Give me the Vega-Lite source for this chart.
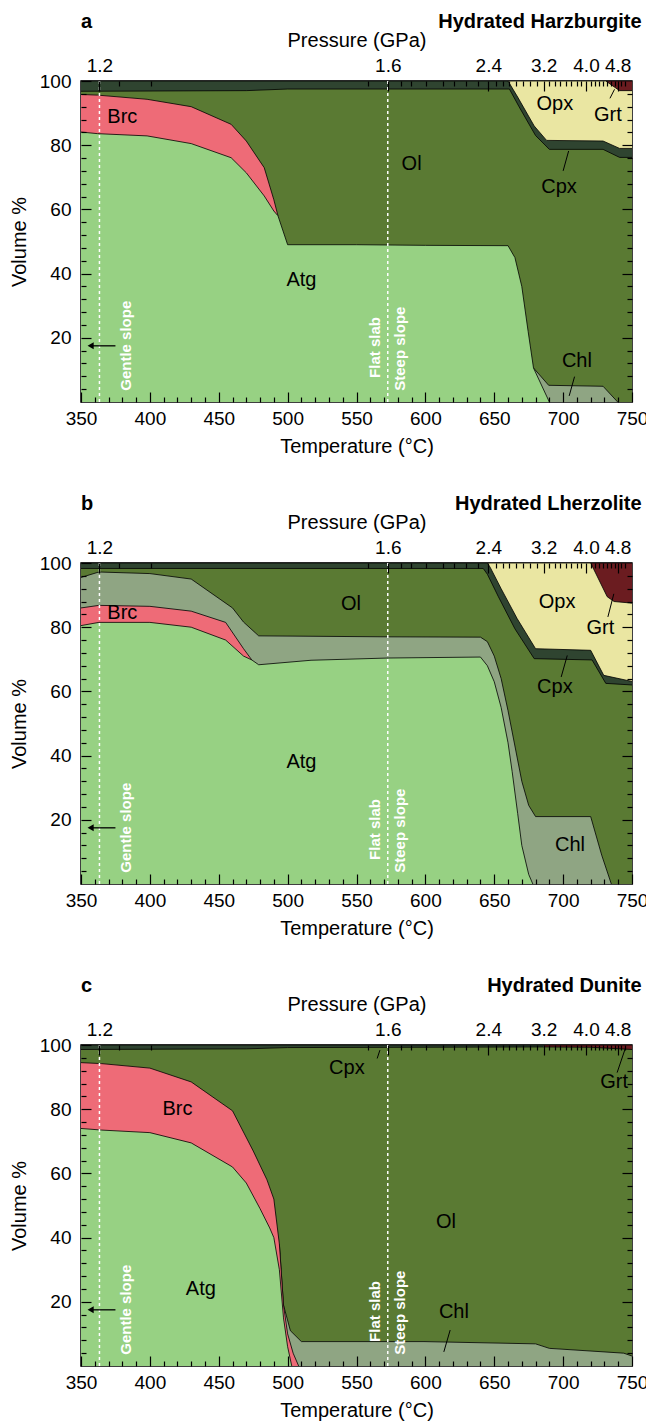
{
"$schema":"https://vega.github.io/schema/vega-lite/v6.json",
"padding":{"left":8,"top":11,"right":5,"bottom":5},
"config":{"font":"Liberation Sans","view":{"stroke":"black","strokeWidth":1.5},"area":{"opacity":1,"fillOpacity":1},
"axis":{"grid":false,"domain":false,"tickColor":"black","tickWidth":1.2,"labelFontSize":19,"labelColor":"black","titleFontSize":20,"titleFontWeight":"normal","titleColor":"black","labelFlush":false,"labelOverlap":false,"labelBound":false}},
"datasets":{
"bd":[
{"p":"a","ph":"Grt","T":731,"v":100},{"p":"a","ph":"Grt","T":750,"v":100},
{"p":"a","ph":"Opx","T":660,"v":100},{"p":"a","ph":"Opx","T":731,"v":100},{"p":"a","ph":"Opx","T":741,"v":97},{"p":"a","ph":"Opx","T":750,"v":97},
{"p":"a","ph":"Cpx","T":350,"v":100},{"p":"a","ph":"Cpx","T":660,"v":100},{"p":"a","ph":"Cpx","T":667,"v":95},{"p":"a","ph":"Cpx","T":679,"v":86},{"p":"a","ph":"Cpx","T":688,"v":81.5},{"p":"a","ph":"Cpx","T":729,"v":81.3},{"p":"a","ph":"Cpx","T":741,"v":79},{"p":"a","ph":"Cpx","T":750,"v":79},
{"p":"a","ph":"Ol","T":350,"v":96.8},{"p":"a","ph":"Ol","T":470,"v":97},{"p":"a","ph":"Ol","T":500,"v":97.5},{"p":"a","ph":"Ol","T":661,"v":97.5},{"p":"a","ph":"Ol","T":668,"v":92},{"p":"a","ph":"Ol","T":680,"v":83},{"p":"a","ph":"Ol","T":690,"v":78.7},{"p":"a","ph":"Ol","T":729,"v":78.7},{"p":"a","ph":"Ol","T":741,"v":76.2},{"p":"a","ph":"Ol","T":750,"v":76.2},
{"p":"a","ph":"Chl","T":678.5,"v":10.6},{"p":"a","ph":"Chl","T":689.5,"v":5.2},{"p":"a","ph":"Chl","T":729,"v":4.9},{"p":"a","ph":"Chl","T":739.6,"v":0},
{"p":"a","ph":"Brc","T":350,"v":95.8},{"p":"a","ph":"Brc","T":362,"v":95.6},{"p":"a","ph":"Brc","T":398,"v":94.3},{"p":"a","ph":"Brc","T":430,"v":92},{"p":"a","ph":"Brc","T":459,"v":86.5},{"p":"a","ph":"Brc","T":470,"v":81.3},{"p":"a","ph":"Brc","T":483,"v":73},{"p":"a","ph":"Brc","T":490,"v":63},{"p":"a","ph":"Brc","T":493,"v":58},
{"p":"a","ph":"Atg","T":350,"v":84.1},{"p":"a","ph":"Atg","T":362,"v":83.6},{"p":"a","ph":"Atg","T":398,"v":82.9},{"p":"a","ph":"Atg","T":430,"v":80.5},{"p":"a","ph":"Atg","T":459,"v":76.1},{"p":"a","ph":"Atg","T":470,"v":71.4},{"p":"a","ph":"Atg","T":483,"v":64.2},{"p":"a","ph":"Atg","T":490,"v":59.5},{"p":"a","ph":"Atg","T":493,"v":58},{"p":"a","ph":"Atg","T":500,"v":49},{"p":"a","ph":"Atg","T":550,"v":49},{"p":"a","ph":"Atg","T":600,"v":48.8},{"p":"a","ph":"Atg","T":660,"v":48.7},{"p":"a","ph":"Atg","T":665,"v":45},{"p":"a","ph":"Atg","T":670,"v":36},{"p":"a","ph":"Atg","T":674.6,"v":22},{"p":"a","ph":"Atg","T":678.5,"v":10.6},{"p":"a","ph":"Atg","T":690,"v":0},
{"p":"b","ph":"Grt","T":720,"v":100},{"p":"b","ph":"Grt","T":750,"v":100},
{"p":"b","ph":"Opx","T":645,"v":100},{"p":"b","ph":"Opx","T":720,"v":100},{"p":"b","ph":"Opx","T":732,"v":89.5},{"p":"b","ph":"Opx","T":737,"v":88},{"p":"b","ph":"Opx","T":750,"v":87.5},
{"p":"b","ph":"Cpx","T":350,"v":100},{"p":"b","ph":"Cpx","T":645,"v":100},{"p":"b","ph":"Cpx","T":647,"v":98.7},{"p":"b","ph":"Cpx","T":655,"v":92},{"p":"b","ph":"Cpx","T":666.6,"v":82.7},{"p":"b","ph":"Cpx","T":680,"v":73.3},{"p":"b","ph":"Cpx","T":720,"v":72.8},{"p":"b","ph":"Cpx","T":729.5,"v":65},{"p":"b","ph":"Cpx","T":750,"v":63.1},
{"p":"b","ph":"Ol","T":350,"v":98.3},{"p":"b","ph":"Ol","T":642,"v":98.3},{"p":"b","ph":"Ol","T":645,"v":96.5},{"p":"b","ph":"Ol","T":653,"v":89.5},{"p":"b","ph":"Ol","T":665,"v":79.5},{"p":"b","ph":"Ol","T":679,"v":70.2},{"p":"b","ph":"Ol","T":721,"v":69.8},{"p":"b","ph":"Ol","T":731,"v":62.5},{"p":"b","ph":"Ol","T":750,"v":62},
{"p":"b","ph":"Chl","T":350,"v":95.5},{"p":"b","ph":"Chl","T":363,"v":97.2},{"p":"b","ph":"Chl","T":400,"v":96.7},{"p":"b","ph":"Chl","T":430,"v":95},{"p":"b","ph":"Chl","T":460,"v":86},{"p":"b","ph":"Chl","T":468,"v":81.6},{"p":"b","ph":"Chl","T":479,"v":77.3},{"p":"b","ph":"Chl","T":573,"v":77},{"p":"b","ph":"Chl","T":640,"v":76.9},{"p":"b","ph":"Chl","T":645,"v":75.5},{"p":"b","ph":"Chl","T":650,"v":71},{"p":"b","ph":"Chl","T":655,"v":64},{"p":"b","ph":"Chl","T":660,"v":54},{"p":"b","ph":"Chl","T":665,"v":43},{"p":"b","ph":"Chl","T":670,"v":32},{"p":"b","ph":"Chl","T":675,"v":24.5},{"p":"b","ph":"Chl","T":680,"v":21},{"p":"b","ph":"Chl","T":720,"v":21},{"p":"b","ph":"Chl","T":728,"v":9},{"p":"b","ph":"Chl","T":735,"v":0},
{"p":"b","ph":"Brc","T":350,"v":86},{"p":"b","ph":"Brc","T":363,"v":86.8},{"p":"b","ph":"Brc","T":400,"v":86.5},{"p":"b","ph":"Brc","T":430,"v":85},{"p":"b","ph":"Brc","T":455,"v":81.5},{"p":"b","ph":"Brc","T":468,"v":73.3},{"p":"b","ph":"Brc","T":474,"v":69.8},
{"p":"b","ph":"Atg","T":350,"v":80.5},{"p":"b","ph":"Atg","T":363,"v":81.5},{"p":"b","ph":"Atg","T":400,"v":81.5},{"p":"b","ph":"Atg","T":430,"v":80},{"p":"b","ph":"Atg","T":455,"v":76},{"p":"b","ph":"Atg","T":468,"v":71},{"p":"b","ph":"Atg","T":474,"v":69.8},{"p":"b","ph":"Atg","T":479,"v":68.3},{"p":"b","ph":"Atg","T":517,"v":69.7},{"p":"b","ph":"Atg","T":573,"v":70.4},{"p":"b","ph":"Atg","T":640,"v":70.7},{"p":"b","ph":"Atg","T":645,"v":68},{"p":"b","ph":"Atg","T":650,"v":63},{"p":"b","ph":"Atg","T":655,"v":55},{"p":"b","ph":"Atg","T":660,"v":44},{"p":"b","ph":"Atg","T":663,"v":35},{"p":"b","ph":"Atg","T":667,"v":22},{"p":"b","ph":"Atg","T":670,"v":12},{"p":"b","ph":"Atg","T":675,"v":3},{"p":"b","ph":"Atg","T":678,"v":0},
{"p":"c","ph":"Grt","T":686,"v":100},{"p":"c","ph":"Grt","T":750,"v":100},
{"p":"c","ph":"Cpx","T":350,"v":100},{"p":"c","ph":"Cpx","T":686,"v":100},
{"p":"c","ph":"Ol","T":350,"v":98.6},{"p":"c","ph":"Ol","T":470,"v":98.8},{"p":"c","ph":"Ol","T":500,"v":99.2},{"p":"c","ph":"Ol","T":686,"v":99.4},{"p":"c","ph":"Ol","T":720,"v":99.3},{"p":"c","ph":"Ol","T":750,"v":98.6},
{"p":"c","ph":"Chl","T":494,"v":38},{"p":"c","ph":"Chl","T":497,"v":19},{"p":"c","ph":"Chl","T":502,"v":11},{"p":"c","ph":"Chl","T":510,"v":7.6},{"p":"c","ph":"Chl","T":599,"v":7.6},{"p":"c","ph":"Chl","T":680,"v":6.9},{"p":"c","ph":"Chl","T":690,"v":5.5},{"p":"c","ph":"Chl","T":744,"v":4},{"p":"c","ph":"Chl","T":750,"v":3.1},
{"p":"c","ph":"Brc","T":350,"v":94.5},{"p":"c","ph":"Brc","T":365,"v":94.2},{"p":"c","ph":"Brc","T":400,"v":92.8},{"p":"c","ph":"Brc","T":430,"v":88.5},{"p":"c","ph":"Brc","T":460,"v":79.5},{"p":"c","ph":"Brc","T":475,"v":67},{"p":"c","ph":"Brc","T":485,"v":58},{"p":"c","ph":"Brc","T":490,"v":52},{"p":"c","ph":"Brc","T":494,"v":38},{"p":"c","ph":"Brc","T":497,"v":19},{"p":"c","ph":"Brc","T":500,"v":10},{"p":"c","ph":"Brc","T":504,"v":4},{"p":"c","ph":"Brc","T":508,"v":0},
{"p":"c","ph":"Atg","T":350,"v":74},{"p":"c","ph":"Atg","T":365,"v":73.5},{"p":"c","ph":"Atg","T":400,"v":72.7},{"p":"c","ph":"Atg","T":430,"v":69.5},{"p":"c","ph":"Atg","T":460,"v":62},{"p":"c","ph":"Atg","T":470,"v":57},{"p":"c","ph":"Atg","T":480,"v":49},{"p":"c","ph":"Atg","T":487,"v":43},{"p":"c","ph":"Atg","T":490,"v":40},{"p":"c","ph":"Atg","T":494,"v":30},{"p":"c","ph":"Atg","T":497,"v":15},{"p":"c","ph":"Atg","T":500,"v":6},{"p":"c","ph":"Atg","T":503,"v":0}
],
"lab":[
{"p":"a","t":"Brc","T":380,"v":88.8},{"p":"a","t":"Ol","T":590,"v":74},{"p":"a","t":"Atg","T":510,"v":38},{"p":"a","t":"Opx","T":694,"v":92.8},{"p":"a","t":"Grt","T":732.5,"v":89.4},{"p":"a","t":"Cpx","T":697,"v":67},{"p":"a","t":"Chl","T":710,"v":12.8},
{"p":"b","t":"Brc","T":380,"v":84.4},{"p":"b","t":"Ol","T":546,"v":87.3},{"p":"b","t":"Atg","T":510,"v":38},{"p":"b","t":"Opx","T":695.6,"v":87.9},{"p":"b","t":"Grt","T":727,"v":79.8},{"p":"b","t":"Cpx","T":694,"v":61.4},{"p":"b","t":"Chl","T":705,"v":12},
{"p":"c","t":"Brc","T":420,"v":80},{"p":"c","t":"Ol","T":615,"v":45},{"p":"c","t":"Atg","T":437,"v":24},{"p":"c","t":"Cpx","T":543,"v":92.8},{"p":"c","t":"Grt","T":737,"v":88.5},{"p":"c","t":"Chl","T":620.7,"v":16.9}
],
"ld":[
{"p":"a","T":734,"v":94.6,"T2":737.3,"v2":97.4},{"p":"a","T":700,"v":72,"T2":704,"v2":78.2},{"p":"a","T":704.4,"v":1.9,"T2":708.3,"v2":7.9},
{"p":"b","T":732.5,"v":83.2,"T2":736.8,"v2":90.4},{"p":"b","T":698.6,"v":64.5,"T2":703,"v2":71.2},
{"p":"c","T":565,"v":95.8,"T2":567,"v2":98.4},{"p":"c","T":739.2,"v":91.4,"T2":745.2,"v2":99},{"p":"c","T":618,"v":11.2,"T2":613.4,"v2":4.4}
],
"ttl":[
{"p":"a","t":"a","T":350,"v":118.4,"al":"l"},{"p":"a","t":"Hydrated Harzburgite","T":757,"v":118.4,"al":"r"},
{"p":"b","t":"b","T":350,"v":118.4,"al":"l"},{"p":"b","t":"Hydrated Lherzolite","T":757,"v":118.4,"al":"r"},
{"p":"c","t":"c","T":350,"v":118.4,"al":"l"},{"p":"c","t":"Hydrated Dunite","T":757,"v":118.4,"al":"r"}
],
"sl":[{"T":363.4},{"T":572.7}],
"st":[{"t":"Gentle slope","T":382.5,"v":3.5},{"t":"Flat slab","T":563.5,"v":7.5},{"t":"Steep slope","T":581.5,"v":3.5}],
"ar":[{"T":375,"T2":357,"v":17.5}]
},
"spacing":161,
"bounds":"flush",
"vconcat":[
{"width":551,"height":321,"resolve":{"axis":{"x":"independent","y":"independent"}},
"layer":[
{"data":{"name":"bd"},"transform":[{"filter":"datum.p==='a'&&datum.ph==='Grt'"}],"mark":{"type":"area","color":"#6B1C20","opacity":1,"line":{"color":"black","strokeWidth":0.8}},
"encoding":{"x":{"field":"T","type":"quantitative","scale":{"domain":[350,750],"nice":false,"zero":false},"axis":{"zindex":2,"orient":"bottom","values":[350,400,450,500,550,600,650,700,750],"tickSize":-10,"labelPadding":17,"title":"Temperature (°C)","titlePadding":8}},
"y":{"field":"v","type":"quantitative","stack":null,"scale":{"domain":[0,100],"nice":false,"zero":false},"axis":{"zindex":2,"orient":"left","values":[20,40,60,80,100],"tickSize":-10,"labelPadding":20,"title":"Volume %","titlePadding":10}}}},
{"data":{"name":"bd"},"transform":[{"filter":"datum.p==='a'&&datum.ph==='Opx'"}],"mark":{"type":"area","color":"#EAE6A2","opacity":1,"line":{"color":"black","strokeWidth":0.8}},
"encoding":{"x":{"field":"T","type":"quantitative","axis":{"zindex":2,"orient":"bottom","values":[360,370,380,390,410,420,430,440,460,470,480,490,510,520,530,540,560,570,580,590,610,620,630,640,660,670,680,690,710,720,730,740],"tickSize":-5,"labels":false,"title":null}},
"y":{"field":"v","type":"quantitative","stack":null,"axis":{"zindex":2,"orient":"left","values":[4,8,12,16,24,28,32,36,44,48,52,56,64,68,72,76,84,88,92,96],"tickSize":-5,"labels":false,"title":null}}}},
{"data":{"name":"bd"},"transform":[{"filter":"datum.p==='a'&&datum.ph==='Cpx'"}],"mark":{"type":"area","color":"#2F4430","opacity":1,"line":{"color":"black","strokeWidth":0.8}},
"encoding":{"x":{"field":"T","type":"quantitative","axis":{"zindex":2,"orient":"top","values":[363.4,572.7,645.7,685.9,716.6,739.6],"tickSize":-10,"labelPadding":16,"labelExpr":"datum.value<400?'1.2':datum.value<600?'1.6':datum.value<660?'2.4':datum.value<700?'3.2':datum.value<730?'4.0':'4.8'","title":"Pressure (GPa)","titlePadding":6}},
"y":{"field":"v","type":"quantitative","stack":null,"axis":{"zindex":2,"orient":"right","values":[20,40,60,80],"tickSize":-10,"labels":false,"title":null}}}},
{"data":{"name":"bd"},"transform":[{"filter":"datum.p==='a'&&datum.ph==='Ol'"}],"mark":{"type":"area","color":"#5A7A33","opacity":1,"line":{"color":"black","strokeWidth":0.8}},
"encoding":{"x":{"field":"T","type":"quantitative","axis":{"zindex":2,"orient":"top","values":[377.4,400.7,558,582,589.6,600.5,612.6,621,629.5,638,651,656,661,666,671,676,681,690,694,698,702,706,710,713,720,723,726,729,732,735,737.5,742,745],"tickSize":-5,"labels":false,"title":null}},
"y":{"field":"v","type":"quantitative","stack":null,"axis":{"zindex":2,"orient":"right","values":[4,8,12,16,24,28,32,36,44,48,52,56,64,68,72,76,84,88,92,96],"tickSize":-5,"labels":false,"title":null}}}},
{"data":{"name":"bd"},"transform":[{"filter":"datum.p==='a'&&datum.ph==='Chl'"}],"mark":{"type":"area","color":"#8FA583","opacity":1,"line":{"color":"black","strokeWidth":0.8}},
"encoding":{"x":{"field":"T","type":"quantitative","axis":null},"y":{"field":"v","type":"quantitative","stack":null,"axis":null}}},
{"data":{"name":"bd"},"transform":[{"filter":"datum.p==='a'&&datum.ph==='Brc'"}],"mark":{"type":"area","color":"#EE6B77","opacity":1,"line":{"color":"black","strokeWidth":0.8}},
"encoding":{"x":{"field":"T","type":"quantitative","axis":null},"y":{"field":"v","type":"quantitative","stack":null,"axis":null}}},
{"data":{"name":"bd"},"transform":[{"filter":"datum.p==='a'&&datum.ph==='Atg'"}],"mark":{"type":"area","color":"#97D183","opacity":1,"line":{"color":"black","strokeWidth":0.8}},
"encoding":{"x":{"field":"T","type":"quantitative","axis":null},"y":{"field":"v","type":"quantitative","stack":null,"axis":null}}},
{"data":{"name":"sl"},"mark":{"type":"rule","color":"white","strokeDash":[3,3],"strokeWidth":1.5},"encoding":{"x":{"field":"T","type":"quantitative","axis":null}}},
{"data":{"name":"st"},"mark":{"type":"text","angle":270,"align":"left","baseline":"middle","fontWeight":"bold","fontSize":15,"color":"white"},"encoding":{"x":{"field":"T","type":"quantitative","axis":null},"y":{"field":"v","type":"quantitative","axis":null},"text":{"field":"t"}}},
{"data":{"name":"ar"},"mark":{"type":"rule","color":"black","strokeWidth":1.3},"encoding":{"x":{"field":"T","type":"quantitative","axis":null},"x2":{"field":"T2"},"y":{"field":"v","type":"quantitative","axis":null}}},
{"data":{"name":"ar"},"mark":{"type":"point","shape":"triangle-left","filled":true,"color":"black","opacity":1,"size":50},"encoding":{"x":{"field":"T2","type":"quantitative","axis":null},"y":{"field":"v","type":"quantitative","axis":null}}},
{"data":{"name":"lab"},"transform":[{"filter":"datum.p==='a'"}],"mark":{"type":"text","fontSize":20,"color":"black","baseline":"middle"},"encoding":{"x":{"field":"T","type":"quantitative","axis":null},"y":{"field":"v","type":"quantitative","axis":null},"text":{"field":"t"}}},
{"data":{"name":"ld"},"transform":[{"filter":"datum.p==='a'"}],"mark":{"type":"rule","color":"black","strokeWidth":1},"encoding":{"x":{"field":"T","type":"quantitative","axis":null},"x2":{"field":"T2"},"y":{"field":"v","type":"quantitative","axis":null},"y2":{"field":"v2"}}},
{"data":{"name":"ttl"},"transform":[{"filter":"datum.p==='a'&&datum.al==='l'"}],"mark":{"type":"text","fontSize":20,"fontWeight":"bold","color":"black","align":"left","baseline":"middle"},"encoding":{"x":{"field":"T","type":"quantitative","axis":null},"y":{"field":"v","type":"quantitative","axis":null},"text":{"field":"t"}}},
{"data":{"name":"ttl"},"transform":[{"filter":"datum.p==='a'&&datum.al==='r'"}],"mark":{"type":"text","fontSize":20,"fontWeight":"bold","color":"black","align":"right","baseline":"middle"},"encoding":{"x":{"field":"T","type":"quantitative","axis":null},"y":{"field":"v","type":"quantitative","axis":null},"text":{"field":"t"}}}
]},
{"width":551,"height":321,"resolve":{"axis":{"x":"independent","y":"independent"}},
"layer":[
{"data":{"name":"bd"},"transform":[{"filter":"datum.p==='b'&&datum.ph==='Grt'"}],"mark":{"type":"area","color":"#6B1C20","opacity":1,"line":{"color":"black","strokeWidth":0.8}},
"encoding":{"x":{"field":"T","type":"quantitative","scale":{"domain":[350,750],"nice":false,"zero":false},"axis":{"zindex":2,"orient":"bottom","values":[350,400,450,500,550,600,650,700,750],"tickSize":-10,"labelPadding":17,"title":"Temperature (°C)","titlePadding":8}},
"y":{"field":"v","type":"quantitative","stack":null,"scale":{"domain":[0,100],"nice":false,"zero":false},"axis":{"zindex":2,"orient":"left","values":[20,40,60,80,100],"tickSize":-10,"labelPadding":20,"title":"Volume %","titlePadding":10}}}},
{"data":{"name":"bd"},"transform":[{"filter":"datum.p==='b'&&datum.ph==='Opx'"}],"mark":{"type":"area","color":"#EAE6A2","opacity":1,"line":{"color":"black","strokeWidth":0.8}},
"encoding":{"x":{"field":"T","type":"quantitative","axis":{"zindex":2,"orient":"bottom","values":[360,370,380,390,410,420,430,440,460,470,480,490,510,520,530,540,560,570,580,590,610,620,630,640,660,670,680,690,710,720,730,740],"tickSize":-5,"labels":false,"title":null}},
"y":{"field":"v","type":"quantitative","stack":null,"axis":{"zindex":2,"orient":"left","values":[4,8,12,16,24,28,32,36,44,48,52,56,64,68,72,76,84,88,92,96],"tickSize":-5,"labels":false,"title":null}}}},
{"data":{"name":"bd"},"transform":[{"filter":"datum.p==='b'&&datum.ph==='Cpx'"}],"mark":{"type":"area","color":"#2F4430","opacity":1,"line":{"color":"black","strokeWidth":0.8}},
"encoding":{"x":{"field":"T","type":"quantitative","axis":{"zindex":2,"orient":"top","values":[363.4,572.7,645.7,685.9,716.6,739.6],"tickSize":-10,"labelPadding":16,"labelExpr":"datum.value<400?'1.2':datum.value<600?'1.6':datum.value<660?'2.4':datum.value<700?'3.2':datum.value<730?'4.0':'4.8'","title":"Pressure (GPa)","titlePadding":6}},
"y":{"field":"v","type":"quantitative","stack":null,"axis":{"zindex":2,"orient":"right","values":[20,40,60,80],"tickSize":-10,"labels":false,"title":null}}}},
{"data":{"name":"bd"},"transform":[{"filter":"datum.p==='b'&&datum.ph==='Ol'"}],"mark":{"type":"area","color":"#5A7A33","opacity":1,"line":{"color":"black","strokeWidth":0.8}},
"encoding":{"x":{"field":"T","type":"quantitative","axis":{"zindex":2,"orient":"top","values":[377.4,400.7,558,582,589.6,600.5,612.6,621,629.5,638,651,656,661,666,671,676,681,690,694,698,702,706,710,713,720,723,726,729,732,735,737.5,742,745],"tickSize":-5,"labels":false,"title":null}},
"y":{"field":"v","type":"quantitative","stack":null,"axis":{"zindex":2,"orient":"right","values":[4,8,12,16,24,28,32,36,44,48,52,56,64,68,72,76,84,88,92,96],"tickSize":-5,"labels":false,"title":null}}}},
{"data":{"name":"bd"},"transform":[{"filter":"datum.p==='b'&&datum.ph==='Chl'"}],"mark":{"type":"area","color":"#8FA583","opacity":1,"line":{"color":"black","strokeWidth":0.8}},
"encoding":{"x":{"field":"T","type":"quantitative","axis":null},"y":{"field":"v","type":"quantitative","stack":null,"axis":null}}},
{"data":{"name":"bd"},"transform":[{"filter":"datum.p==='b'&&datum.ph==='Brc'"}],"mark":{"type":"area","color":"#EE6B77","opacity":1,"line":{"color":"black","strokeWidth":0.8}},
"encoding":{"x":{"field":"T","type":"quantitative","axis":null},"y":{"field":"v","type":"quantitative","stack":null,"axis":null}}},
{"data":{"name":"bd"},"transform":[{"filter":"datum.p==='b'&&datum.ph==='Atg'"}],"mark":{"type":"area","color":"#97D183","opacity":1,"line":{"color":"black","strokeWidth":0.8}},
"encoding":{"x":{"field":"T","type":"quantitative","axis":null},"y":{"field":"v","type":"quantitative","stack":null,"axis":null}}},
{"data":{"name":"sl"},"mark":{"type":"rule","color":"white","strokeDash":[3,3],"strokeWidth":1.5},"encoding":{"x":{"field":"T","type":"quantitative","axis":null}}},
{"data":{"name":"st"},"mark":{"type":"text","angle":270,"align":"left","baseline":"middle","fontWeight":"bold","fontSize":15,"color":"white"},"encoding":{"x":{"field":"T","type":"quantitative","axis":null},"y":{"field":"v","type":"quantitative","axis":null},"text":{"field":"t"}}},
{"data":{"name":"ar"},"mark":{"type":"rule","color":"black","strokeWidth":1.3},"encoding":{"x":{"field":"T","type":"quantitative","axis":null},"x2":{"field":"T2"},"y":{"field":"v","type":"quantitative","axis":null}}},
{"data":{"name":"ar"},"mark":{"type":"point","shape":"triangle-left","filled":true,"color":"black","opacity":1,"size":50},"encoding":{"x":{"field":"T2","type":"quantitative","axis":null},"y":{"field":"v","type":"quantitative","axis":null}}},
{"data":{"name":"lab"},"transform":[{"filter":"datum.p==='b'"}],"mark":{"type":"text","fontSize":20,"color":"black","baseline":"middle"},"encoding":{"x":{"field":"T","type":"quantitative","axis":null},"y":{"field":"v","type":"quantitative","axis":null},"text":{"field":"t"}}},
{"data":{"name":"ld"},"transform":[{"filter":"datum.p==='b'"}],"mark":{"type":"rule","color":"black","strokeWidth":1},"encoding":{"x":{"field":"T","type":"quantitative","axis":null},"x2":{"field":"T2"},"y":{"field":"v","type":"quantitative","axis":null},"y2":{"field":"v2"}}},
{"data":{"name":"ttl"},"transform":[{"filter":"datum.p==='b'&&datum.al==='l'"}],"mark":{"type":"text","fontSize":20,"fontWeight":"bold","color":"black","align":"left","baseline":"middle"},"encoding":{"x":{"field":"T","type":"quantitative","axis":null},"y":{"field":"v","type":"quantitative","axis":null},"text":{"field":"t"}}},
{"data":{"name":"ttl"},"transform":[{"filter":"datum.p==='b'&&datum.al==='r'"}],"mark":{"type":"text","fontSize":20,"fontWeight":"bold","color":"black","align":"right","baseline":"middle"},"encoding":{"x":{"field":"T","type":"quantitative","axis":null},"y":{"field":"v","type":"quantitative","axis":null},"text":{"field":"t"}}}
]},
{"width":551,"height":321,"resolve":{"axis":{"x":"independent","y":"independent"}},
"layer":[
{"data":{"name":"bd"},"transform":[{"filter":"datum.p==='c'&&datum.ph==='Grt'"}],"mark":{"type":"area","color":"#6B1C20","opacity":1,"line":{"color":"black","strokeWidth":0.8}},
"encoding":{"x":{"field":"T","type":"quantitative","scale":{"domain":[350,750],"nice":false,"zero":false},"axis":{"zindex":2,"orient":"bottom","values":[350,400,450,500,550,600,650,700,750],"tickSize":-10,"labelPadding":17,"title":"Temperature (°C)","titlePadding":8}},
"y":{"field":"v","type":"quantitative","stack":null,"scale":{"domain":[0,100],"nice":false,"zero":false},"axis":{"zindex":2,"orient":"left","values":[20,40,60,80,100],"tickSize":-10,"labelPadding":20,"title":"Volume %","titlePadding":10}}}},
{"data":{"name":"bd"},"transform":[{"filter":"datum.p==='c'&&datum.ph==='Opx'"}],"mark":{"type":"area","color":"#EAE6A2","opacity":1,"line":{"color":"black","strokeWidth":0.8}},
"encoding":{"x":{"field":"T","type":"quantitative","axis":{"zindex":2,"orient":"bottom","values":[360,370,380,390,410,420,430,440,460,470,480,490,510,520,530,540,560,570,580,590,610,620,630,640,660,670,680,690,710,720,730,740],"tickSize":-5,"labels":false,"title":null}},
"y":{"field":"v","type":"quantitative","stack":null,"axis":{"zindex":2,"orient":"left","values":[4,8,12,16,24,28,32,36,44,48,52,56,64,68,72,76,84,88,92,96],"tickSize":-5,"labels":false,"title":null}}}},
{"data":{"name":"bd"},"transform":[{"filter":"datum.p==='c'&&datum.ph==='Cpx'"}],"mark":{"type":"area","color":"#2F4430","opacity":1,"line":{"color":"black","strokeWidth":0.8}},
"encoding":{"x":{"field":"T","type":"quantitative","axis":{"zindex":2,"orient":"top","values":[363.4,572.7,645.7,685.9,716.6,739.6],"tickSize":-10,"labelPadding":16,"labelExpr":"datum.value<400?'1.2':datum.value<600?'1.6':datum.value<660?'2.4':datum.value<700?'3.2':datum.value<730?'4.0':'4.8'","title":"Pressure (GPa)","titlePadding":6}},
"y":{"field":"v","type":"quantitative","stack":null,"axis":{"zindex":2,"orient":"right","values":[20,40,60,80],"tickSize":-10,"labels":false,"title":null}}}},
{"data":{"name":"bd"},"transform":[{"filter":"datum.p==='c'&&datum.ph==='Ol'"}],"mark":{"type":"area","color":"#5A7A33","opacity":1,"line":{"color":"black","strokeWidth":0.8}},
"encoding":{"x":{"field":"T","type":"quantitative","axis":{"zindex":2,"orient":"top","values":[377.4,400.7,558,582,589.6,600.5,612.6,621,629.5,638,651,656,661,666,671,676,681,690,694,698,702,706,710,713,720,723,726,729,732,735,737.5,742,745],"tickSize":-5,"labels":false,"title":null}},
"y":{"field":"v","type":"quantitative","stack":null,"axis":{"zindex":2,"orient":"right","values":[4,8,12,16,24,28,32,36,44,48,52,56,64,68,72,76,84,88,92,96],"tickSize":-5,"labels":false,"title":null}}}},
{"data":{"name":"bd"},"transform":[{"filter":"datum.p==='c'&&datum.ph==='Chl'"}],"mark":{"type":"area","color":"#8FA583","opacity":1,"line":{"color":"black","strokeWidth":0.8}},
"encoding":{"x":{"field":"T","type":"quantitative","axis":null},"y":{"field":"v","type":"quantitative","stack":null,"axis":null}}},
{"data":{"name":"bd"},"transform":[{"filter":"datum.p==='c'&&datum.ph==='Brc'"}],"mark":{"type":"area","color":"#EE6B77","opacity":1,"line":{"color":"black","strokeWidth":0.8}},
"encoding":{"x":{"field":"T","type":"quantitative","axis":null},"y":{"field":"v","type":"quantitative","stack":null,"axis":null}}},
{"data":{"name":"bd"},"transform":[{"filter":"datum.p==='c'&&datum.ph==='Atg'"}],"mark":{"type":"area","color":"#97D183","opacity":1,"line":{"color":"black","strokeWidth":0.8}},
"encoding":{"x":{"field":"T","type":"quantitative","axis":null},"y":{"field":"v","type":"quantitative","stack":null,"axis":null}}},
{"data":{"name":"sl"},"mark":{"type":"rule","color":"white","strokeDash":[3,3],"strokeWidth":1.5},"encoding":{"x":{"field":"T","type":"quantitative","axis":null}}},
{"data":{"name":"st"},"mark":{"type":"text","angle":270,"align":"left","baseline":"middle","fontWeight":"bold","fontSize":15,"color":"white"},"encoding":{"x":{"field":"T","type":"quantitative","axis":null},"y":{"field":"v","type":"quantitative","axis":null},"text":{"field":"t"}}},
{"data":{"name":"ar"},"mark":{"type":"rule","color":"black","strokeWidth":1.3},"encoding":{"x":{"field":"T","type":"quantitative","axis":null},"x2":{"field":"T2"},"y":{"field":"v","type":"quantitative","axis":null}}},
{"data":{"name":"ar"},"mark":{"type":"point","shape":"triangle-left","filled":true,"color":"black","opacity":1,"size":50},"encoding":{"x":{"field":"T2","type":"quantitative","axis":null},"y":{"field":"v","type":"quantitative","axis":null}}},
{"data":{"name":"lab"},"transform":[{"filter":"datum.p==='c'"}],"mark":{"type":"text","fontSize":20,"color":"black","baseline":"middle"},"encoding":{"x":{"field":"T","type":"quantitative","axis":null},"y":{"field":"v","type":"quantitative","axis":null},"text":{"field":"t"}}},
{"data":{"name":"ld"},"transform":[{"filter":"datum.p==='c'"}],"mark":{"type":"rule","color":"black","strokeWidth":1},"encoding":{"x":{"field":"T","type":"quantitative","axis":null},"x2":{"field":"T2"},"y":{"field":"v","type":"quantitative","axis":null},"y2":{"field":"v2"}}},
{"data":{"name":"ttl"},"transform":[{"filter":"datum.p==='c'&&datum.al==='l'"}],"mark":{"type":"text","fontSize":20,"fontWeight":"bold","color":"black","align":"left","baseline":"middle"},"encoding":{"x":{"field":"T","type":"quantitative","axis":null},"y":{"field":"v","type":"quantitative","axis":null},"text":{"field":"t"}}},
{"data":{"name":"ttl"},"transform":[{"filter":"datum.p==='c'&&datum.al==='r'"}],"mark":{"type":"text","fontSize":20,"fontWeight":"bold","color":"black","align":"right","baseline":"middle"},"encoding":{"x":{"field":"T","type":"quantitative","axis":null},"y":{"field":"v","type":"quantitative","axis":null},"text":{"field":"t"}}}
]}
]
}
